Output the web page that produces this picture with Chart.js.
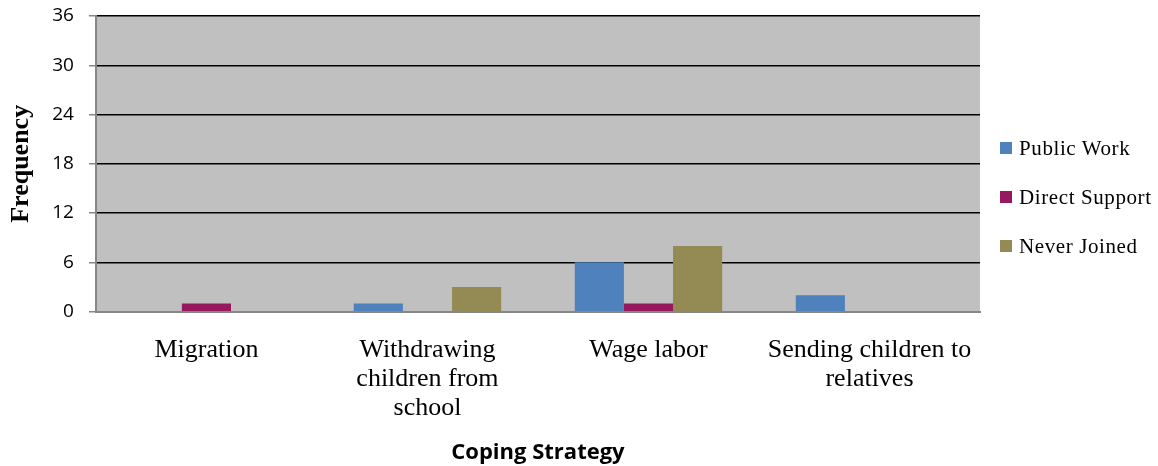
<!DOCTYPE html>
<html>
<head>
<meta charset="utf-8">
<script src="https://cdn.jsdelivr.net/npm/chart.js@4/dist/chart.umd.min.js"></script>
<style>
  html, body { margin: 0; padding: 0; background: #fff; }
  #wrap { position: relative; width: 1158px; height: 466px; }
  #legend { position: absolute; left: 1000px; top: 136px; font-family: "Liberation Serif", "Times New Roman", serif; font-size: 21px; letter-spacing: 0.6px; color: #000; }
  .item { height: 49px; display: flex; align-items: flex-start; }
  .item span.box { width: 12px; height: 12px; margin-top: 6px; margin-right: 7px; flex: none; }
  .item span.txt { line-height: 24px; white-space: nowrap; }
</style>
</head>
<body>
<div id="wrap">
  <canvas id="copingChart"></canvas>
  <div id="legend"></div>
</div>
<script>
// coping strategies by programme participation
const strategies = [
  ['Migration'],
  ['Withdrawing', 'children from', 'school'],
  ['Wage labor'],
  ['Sending children to', 'relatives']
];
const seriesNames = ['Public Work', 'Direct Support', 'Never Joined'];
const publicWork = [0, 1, 6, 2];
const directSupport = [1, 0, 1, 0];
const neverJoined = [0, 3, 8, 0];
const freqTicks = [0, 6, 12, 18, 24, 30, 36];
const seriesColors = ['#4F81BD', '#97185F', '#948A54'];

const serif = '"Liberation Serif", "Times New Roman", serif';
const sans = '"Open Sans", "Liberation Sans", sans-serif';

// grey plot background behind the bars
const plotBackground = {
  id: 'plotBackground',
  beforeDraw(chart) {
    const { ctx, chartArea: a } = chart;
    ctx.save();
    ctx.fillStyle = '#C0C0C0';
    ctx.fillRect(a.left, a.top, a.right - a.left, a.bottom - a.top);
    ctx.restore();
  }
};

function makeDataset(i, data) {
  return {
    label: seriesNames[i],
    data: data,
    backgroundColor: seriesColors[i],
    borderWidth: 0,
    barPercentage: 1,
    categoryPercentage: 0.667
  };
}

const ctx = document.getElementById('copingChart').getContext('2d');
const chart = new Chart(ctx, {
  type: 'bar',
  data: {
    labels: strategies,
    datasets: [
      makeDataset(0, publicWork),
      makeDataset(1, directSupport),
      makeDataset(2, neverJoined)
    ]
  },
  options: {
    responsive: true,
    maintainAspectRatio: false,
    animation: false,
    layout: { padding: { top: 0, right: 178, bottom: 0, left: 6 } },
    plugins: {
      tooltip: { enabled: false },
      legend: { display: false }
    },
    scales: {
      x: {
        grid: { display: false, drawTicks: false },
        border: { color: '#878787', width: 2 },
        ticks: {
          color: '#000',
          font: { family: serif, size: 26, lineHeight: 1.115 },
          padding: 24,
          maxRotation: 0,
          autoSkip: false
        },
        title: {
          display: true,
          text: 'Coping Strategy',
          color: '#000',
          font: { family: sans, size: 22, weight: 'bold' },
          padding: { top: -7, bottom: 0 }
        }
      },
      y: {
        min: freqTicks[0],
        max: freqTicks[freqTicks.length - 1],
        afterBuildTicks(axis) {
          axis.ticks = freqTicks.map(v => ({ value: v }));
        },
        // keep the label gap from pushing the plot down
        afterFit(axis) {
          axis.paddingTop = 16;
          axis.paddingBottom = 0;
        },
        grid: {
          color: c => c.index === 0 ? '#878787' : '#000',
          lineWidth: 1.5,
          tickColor: '#878787',
          tickLength: 7
        },
        border: { color: '#878787', width: 2 },
        ticks: {
          color: '#000',
          font: { family: sans, size: 19 },
          padding: 15
        },
        title: {
          display: true,
          text: 'Frequency',
          color: '#000',
          font: { family: serif, size: 26, weight: 'bold' },
          padding: { top: 0, bottom: 0 }
        }
      }
    }
  },
  plugins: [plotBackground]
});

// legend beside the plot, built from the same series
const legendEl = document.getElementById('legend');
chart.data.datasets.forEach(ds => {
  const row = document.createElement('div');
  row.className = 'item';
  const box = document.createElement('span');
  box.className = 'box';
  box.style.background = ds.backgroundColor;
  const txt = document.createElement('span');
  txt.className = 'txt';
  txt.textContent = ds.label;
  row.appendChild(box);
  row.appendChild(txt);
  legendEl.appendChild(row);
});
</script>
</body>
</html>
